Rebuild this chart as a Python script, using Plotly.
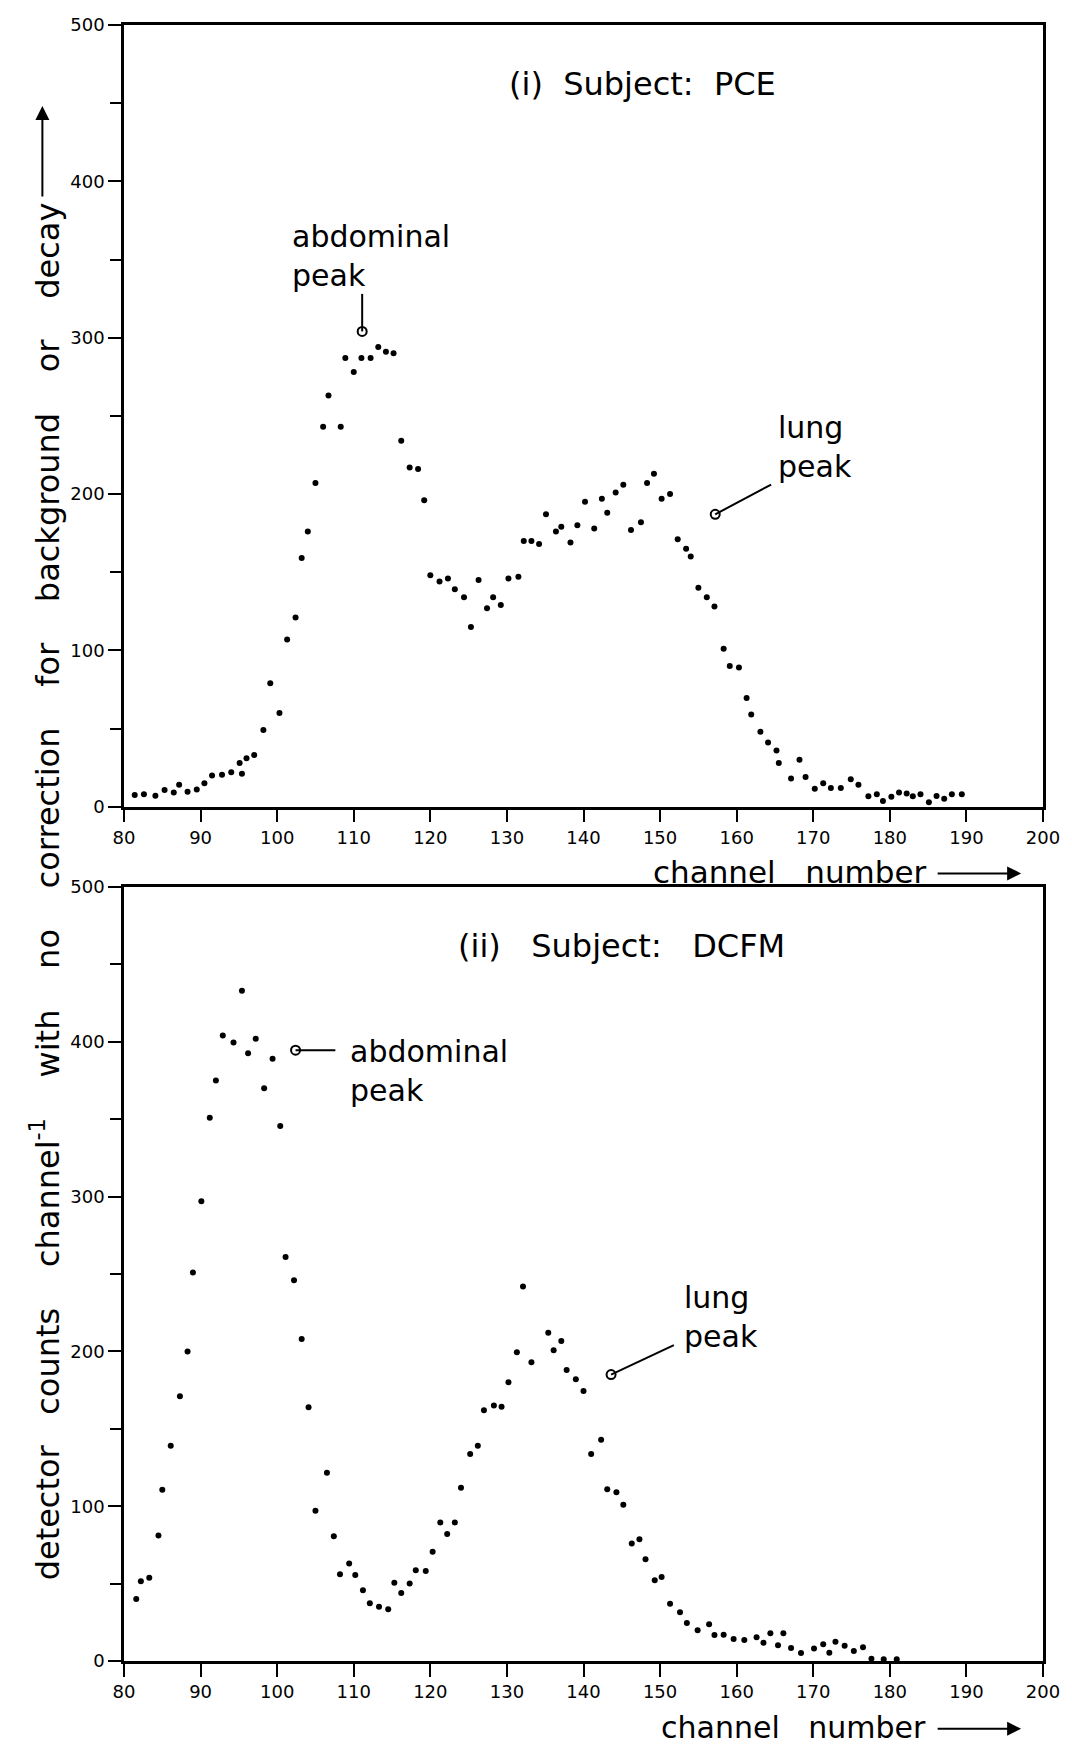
import plotly.graph_objects as go

# ---------------- data ----------------
# (i) Subject: PCE
pce_channel = [81.4, 82.6, 84.1, 85.3, 86.5, 87.2, 88.3, 89.5, 90.5, 91.5, 92.8, 94.0, 95.1, 95.4,
               96.0, 97.0, 98.2, 99.1, 100.3, 101.3, 102.4, 103.2, 104.0, 105.0, 106.0, 106.7,
               108.3, 108.9, 110.0, 111.0, 112.2, 113.2, 114.2, 115.2, 116.2, 117.3, 118.4, 119.2,
               120.0, 121.2, 122.3, 123.2, 124.4, 125.3, 126.3, 127.4, 128.2, 129.2, 130.2, 131.5,
               132.2, 133.2, 134.2, 135.1, 136.4, 137.1, 138.3, 139.2, 140.2, 141.4, 142.4, 143.1,
               144.2, 145.2, 146.2, 147.5, 148.3, 149.2, 150.2, 151.3, 152.3, 153.4, 154.0, 155.0,
               156.1, 157.1, 158.3, 159.1, 160.3, 161.3, 161.9, 163.1, 164.1, 165.2, 165.5, 167.1,
               168.2, 169.0, 170.2, 171.3, 172.3, 173.6, 174.9, 175.9, 177.2, 178.3, 179.1, 180.2,
               181.2, 182.2, 183.0, 184.0, 185.1, 186.1, 187.1, 188.1, 189.4]
pce_counts = [7.5, 8, 7, 10.7, 9, 14, 9.6, 11, 15, 20, 20.5, 22, 28, 21,
              31, 33, 49, 79, 60, 107, 121, 159, 176, 207, 243, 263,
              243, 287, 278, 287, 287, 294, 291, 290, 234, 217, 216, 196,
              148, 144, 146, 139, 134, 115, 145, 127, 134, 129, 146, 147,
              170, 170, 168, 187, 176, 179, 169, 180, 195, 178, 197, 188,
              201, 206, 177, 182, 207, 213, 197, 200, 171, 165, 160, 140,
              134, 128, 101, 90, 89, 69.5, 59, 48, 41, 36, 28, 18,
              30, 19, 11.5, 15, 12, 12, 17.5, 14, 6.6, 8, 3.6, 6.4,
              9, 8.5, 6.6, 8, 2.8, 6.8, 5, 8, 8]

# (ii) Subject: DCFM
dcfm_channel = [81.6, 82.2, 83.3, 84.5, 85.0, 86.1, 87.3, 88.3, 89.0, 90.1, 91.2, 92.0, 92.9, 94.3,
                95.4, 96.2, 97.2, 98.3, 99.4, 100.4, 101.1, 102.2, 103.2, 104.1, 105.0, 106.5,
                107.4, 108.2, 109.4, 110.2, 111.2, 112.1, 113.3, 114.5, 115.3, 116.2, 117.3, 118.1,
                119.4, 120.3, 121.3, 122.2, 123.2, 124.0, 125.2, 126.2, 127.0, 128.3, 129.3, 130.2,
                131.3, 132.1, 133.2, 135.4, 136.1, 137.1, 137.8, 139.0, 140.0, 141.0, 142.3, 143.1,
                144.3, 145.2, 146.3, 147.3, 148.1, 149.3, 150.2, 151.3, 152.6, 153.5, 154.9, 156.4,
                157.1, 158.3, 159.6, 161.0, 162.6, 163.5, 164.4, 165.4, 166.1, 167.1, 168.4, 170.1,
                171.3, 172.1, 172.9, 174.1, 175.3, 176.5, 177.6, 179.2, 180.9]
dcfm_counts = [40, 51.5, 53.7, 81, 110.6, 139, 171, 200, 251, 297, 351, 375, 404, 399.5,
               433, 392.6, 402, 370, 389, 345.6, 261, 246, 208, 164, 97, 121.6,
               80.6, 56, 63, 55.6, 45.7, 37.3, 35, 33.4, 50.6, 44, 50, 58.7,
               58.2, 70.5, 89.5, 82, 89.5, 112, 133.7, 139, 162, 165, 164.3, 180,
               199.4, 242, 193, 212, 200.7, 206.8, 188, 182, 174.4, 133.7, 143, 111,
               109, 101, 75.9, 78.7, 65.8, 52.2, 54.3, 37, 31.5, 24.6, 19.8, 23.7,
               16.8, 17, 14.2, 13.6, 15.3, 11.8, 17.9, 10.1, 17.9, 8.4, 5.2, 8,
               10.8, 5.4, 12.5, 9.9, 6.5, 8.9, 1.5, 1.1, 1.1]

# peak markers (channel, counts) and label anchors
pce_peak_channel = [111.1, 157.2]
pce_peak_counts = [304, 187]
pce_leader_end_channel = [111.1, 164.5]
pce_leader_end_counts = [328, 206]
pce_label_channel = [101.7, 165.1]
pce_label_counts = [352, 230]

dcfm_peak_channel = [102.4, 143.6]
dcfm_peak_counts = [394.6, 185]
dcfm_leader_end_channel = [107.6, 151.8]
dcfm_leader_end_counts = [394.6, 204]
dcfm_label_channel = [109.2, 152.9]
dcfm_label_counts = [381, 222]

peak_labels = ["abdominal<br>peak", "lung<br>peak"]
panel_titles = ["(i)&nbsp;&nbsp;Subject:&nbsp;&nbsp;PCE", "(ii)&nbsp;&nbsp;&nbsp;Subject:&nbsp;&nbsp;&nbsp;DCFM"]

x_ticks = list(range(80, 201, 10))
y_ticks = list(range(0, 501, 100))

FONT = "DejaVu Sans"
SP3 = "&nbsp;&nbsp;&nbsp;"
SP4 = "&nbsp;&nbsp;&nbsp;&nbsp;"

fig = go.Figure()

fig.add_trace(go.Scatter(x=pce_channel, y=pce_counts, mode="markers",
                         marker=dict(color="black", size=6), xaxis="x", yaxis="y",
                         showlegend=False))
fig.add_trace(go.Scatter(x=dcfm_channel, y=dcfm_counts, mode="markers",
                         marker=dict(color="black", size=6), xaxis="x2", yaxis="y2",
                         showlegend=False))

# leader lines
for i in range(2):
    fig.add_trace(go.Scatter(x=[pce_peak_channel[i], pce_leader_end_channel[i]],
                             y=[pce_peak_counts[i], pce_leader_end_counts[i]],
                             mode="lines", line=dict(color="black", width=2),
                             xaxis="x", yaxis="y", showlegend=False))
    fig.add_trace(go.Scatter(x=[dcfm_peak_channel[i], dcfm_leader_end_channel[i]],
                             y=[dcfm_peak_counts[i], dcfm_leader_end_counts[i]],
                             mode="lines", line=dict(color="black", width=2),
                             xaxis="x2", yaxis="y2", showlegend=False))

fig.add_trace(go.Scatter(x=pce_peak_channel, y=pce_peak_counts, mode="markers",
                         marker=dict(symbol="circle-open", color="black", size=9,
                                     line=dict(width=2)),
                         xaxis="x", yaxis="y", showlegend=False))
fig.add_trace(go.Scatter(x=dcfm_peak_channel, y=dcfm_peak_counts, mode="markers",
                         marker=dict(symbol="circle-open", color="black", size=9,
                                     line=dict(width=2)),
                         xaxis="x2", yaxis="y2", showlegend=False))

axis_common = dict(range=[80, 200], tickvals=x_ticks, ticks="outside", ticklen=13,
                   tickwidth=2, tickcolor="black", showline=True, linewidth=2.5,
                   linecolor="black", mirror=True, showgrid=False, zeroline=False,
                   tickfont=dict(family=FONT, size=18, color="black"))
yaxis_common = dict(range=[0, 500], tickvals=y_ticks, ticks="outside", ticklen=13,
                    tickwidth=2, tickcolor="black", showline=True, linewidth=2.5,
                    linecolor="black", mirror=True, showgrid=False, zeroline=False,
                    tickfont=dict(family=FONT, size=18, color="black"),
                    minor=dict(dtick=50, ticks="outside", ticklen=11, tickwidth=2,
                               tickcolor="black", showgrid=False))

annotations = []
for i in range(2):
    annotations.append(dict(x=pce_label_channel[i], y=pce_label_counts[i], xref="x", yref="y",
                            text=peak_labels[i], showarrow=False, xanchor="left",
                            yanchor="middle", align="left",
                            font=dict(family=FONT, size=30, color="black")))
    annotations.append(dict(x=dcfm_label_channel[i], y=dcfm_label_counts[i], xref="x2", yref="y2",
                            text=peak_labels[i], showarrow=False, xanchor="left",
                            yanchor="middle", align="left",
                            font=dict(family=FONT, size=30, color="black")))

y_title = ("detector" + SP3 + "counts" + SP4 + "channel<sup>-1</sup>" + SP4 + "with" + SP4 +
           "no" + SP4 + "correction" + SP4 + "for" + SP4 + "background" + SP4 + "or" + SP4 + "decay")

annotations += [
    dict(x=130.0, y=462, xref="x", yref="y", text=panel_titles[0], showarrow=False,
         xanchor="left", yanchor="middle", font=dict(family=FONT, size=32, color="black")),
    dict(x=123.4, y=462, xref="x2", yref="y2", text=panel_titles[1], showarrow=False,
         xanchor="left", yanchor="middle", font=dict(family=FONT, size=32, color="black")),
    # x-axis titles
    dict(x=0.8745, y=0.4823, xref="paper", yref="paper",
         text="channel" + SP3 + "number", showarrow=False,
         xanchor="right", yanchor="middle", font=dict(family=FONT, size=31, color="black")),
    dict(x=0.8745, y=-0.0405, xref="paper", yref="paper",
         text="channel" + SP3 + "number", showarrow=False,
         xanchor="right", yanchor="middle", font=dict(family=FONT, size=30, color="black")),
    # arrows for x-axis titles
    dict(x=0.9762, y=0.4814, xref="paper", yref="paper", text="", showarrow=True,
         ax=-85, ay=0, arrowhead=2, arrowsize=1.4, arrowwidth=2, arrowcolor="black"),
    dict(x=0.9762, y=-0.0414, xref="paper", yref="paper", text="", showarrow=True,
         ax=-85, ay=0, arrowhead=2, arrowsize=1.4, arrowwidth=2, arrowcolor="black"),
    # y title
    dict(x=-0.0855, y=0.4707, xref="paper", yref="paper", textangle=-90,
         text=y_title, showarrow=False, xanchor="center", yanchor="middle",
         font=dict(family=FONT, size=32, color="black")),
    dict(x=-0.0888, y=0.9505, xref="paper", yref="paper", text="", showarrow=True,
         ax=0, ay=92, arrowhead=2, arrowsize=1.4, arrowwidth=2, arrowcolor="black"),
]

fig.update_layout(
    width=1072, height=1753,
    margin=dict(l=124, r=24, t=25, b=92),
    paper_bgcolor="white", plot_bgcolor="white",
    xaxis=dict(domain=[0, 1], anchor="y", **axis_common),
    yaxis=dict(domain=[0.5222, 1], anchor="x", **yaxis_common),
    xaxis2=dict(domain=[0, 1], anchor="y2", **axis_common),
    yaxis2=dict(domain=[0, 0.4731], anchor="x2", **yaxis_common),
    annotations=annotations,
    showlegend=False,
)

fig.write_html("out.html")
